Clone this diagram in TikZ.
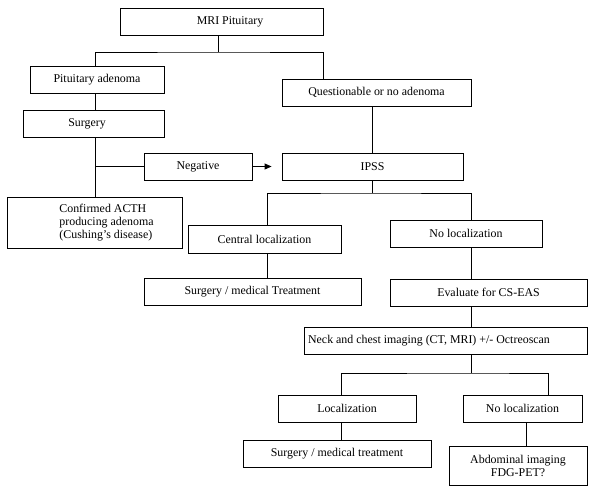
\documentclass[tikz,border=0pt]{standalone}
\usepackage{fontspec}
\setmainfont{Liberation Serif}
\usetikzlibrary{arrows.meta}
\begin{document}
\begin{tikzpicture}[x=1pt,y=-1pt,
  box/.style={draw=black, line width=0.9pt, rectangle, inner sep=0pt, minimum height=27pt, font=\fontsize{11.9}{13}\selectfont},
  conn/.style={draw=black, line width=0.9pt},
  every label/.style={font=\fontsize{11.9}{13}\selectfont, inner sep=0pt}]
\useasboundingbox (0,0) rectangle (600,498);
\node[box, minimum width=203pt, label={[xshift=8.5pt]center:MRI Pituitary}] (mri) at (221.5,21.5) {};
\node[box, minimum width=134pt] (pa) at (97,79.5) {Pituitary adenoma};
\node[box, minimum width=141pt, label={[xshift=-6.5pt]center:Surgery}] (surg) at (93.5,123.5) {};
\node[box, minimum width=108pt] (neg) at (198,166.5) {Negative};
\node[box, minimum width=189pt] (q) at (376.5,92.5) {Questionable or no adenoma};
\node[box, minimum width=181pt] (ipss) at (372.5,166.5) {IPSS};
\node[box, minimum width=175pt, minimum height=51pt, label={[xshift=12pt, align=left]center:Confirmed ACTH\\producing adenoma\\(Cushing’s disease)}] (conf) at (94.5,222.5) {};
\node[box, minimum width=153pt, minimum height=28pt] (central) at (264.5,239) {Central localization};
\node[box, minimum width=152pt] (noloc) at (466,233.5) {No localization};
\node[box, minimum width=217pt] (smt) at (252.5,291.5) {Surgery / medical Treatment};
\node[box, minimum width=197pt] (eval) at (488.5,292.5) {Evaluate for CS-EAS};
\node[box, minimum width=283pt, label={[xshift=-16.5pt]center:Neck and chest imaging (CT, MRI) +/- Octreoscan}] (neck) at (445.5,340.5) {};
\node[box, minimum width=138pt] (loc) at (347,408.5) {Localization};
\node[box, minimum width=119pt] (noloc2) at (522.5,408.5) {No localization};
\node[box, minimum width=188pt] (smt2) at (337,453.5) {Surgery / medical treatment};
\node[box, minimum width=138pt, minimum height=39pt, align=center] (abd) at (518,465.5) {Abdominal imaging\\FDG-PET?};
\coordinate (h1) at (218,52);
\coordinate (h2) at (372.5,193);
\coordinate (h3) at (471,373);
\draw[conn] ([xshift=-3.5pt]mri.south) -- (h1);
\draw[conn] ([xshift=-2pt]pa.north) |- (h1) -| ([xshift=-53.5pt]q.north);
\draw[conn] ([xshift=-2pt]pa.south) -- ([xshift=1.5pt]surg.north);
\draw[conn] ([xshift=1.5pt]surg.south) -- ([xshift=0.5pt]conf.north);
\draw[conn] (neg.west) -- ++(-49,0);
\draw[conn, -{Triangle[length=7pt,width=6pt]}] (neg.east) -- ([xshift=-10pt]ipss.west);
\draw[conn] ([xshift=-4.5pt]q.south) -- ([xshift=-0.5pt]ipss.north);
\draw[conn] (ipss.south) -- (h2);
\draw[conn] ([xshift=2.5pt]central.north) |- (h2) -| ([xshift=5pt]noloc.north);
\draw[conn] ([xshift=2.5pt]central.south) -- ([xshift=14.5pt]smt.north);
\draw[conn] ([xshift=5pt]noloc.south) -- ([xshift=-17.5pt]eval.north);
\draw[conn] ([xshift=-17.5pt]eval.south) -- ([xshift=25.5pt]neck.north);
\draw[conn] ([xshift=25.5pt]neck.south) -- (h3);
\draw[conn] ([xshift=-6pt]loc.north) |- (h3) -| ([xshift=25.5pt]noloc2.north);
\draw[conn] ([xshift=-6pt]loc.south) -- ([xshift=4pt]smt2.north);
\draw[conn] ([xshift=3.5pt]noloc2.south) -- ([xshift=8pt]abd.north);
\end{tikzpicture}
\end{document}
